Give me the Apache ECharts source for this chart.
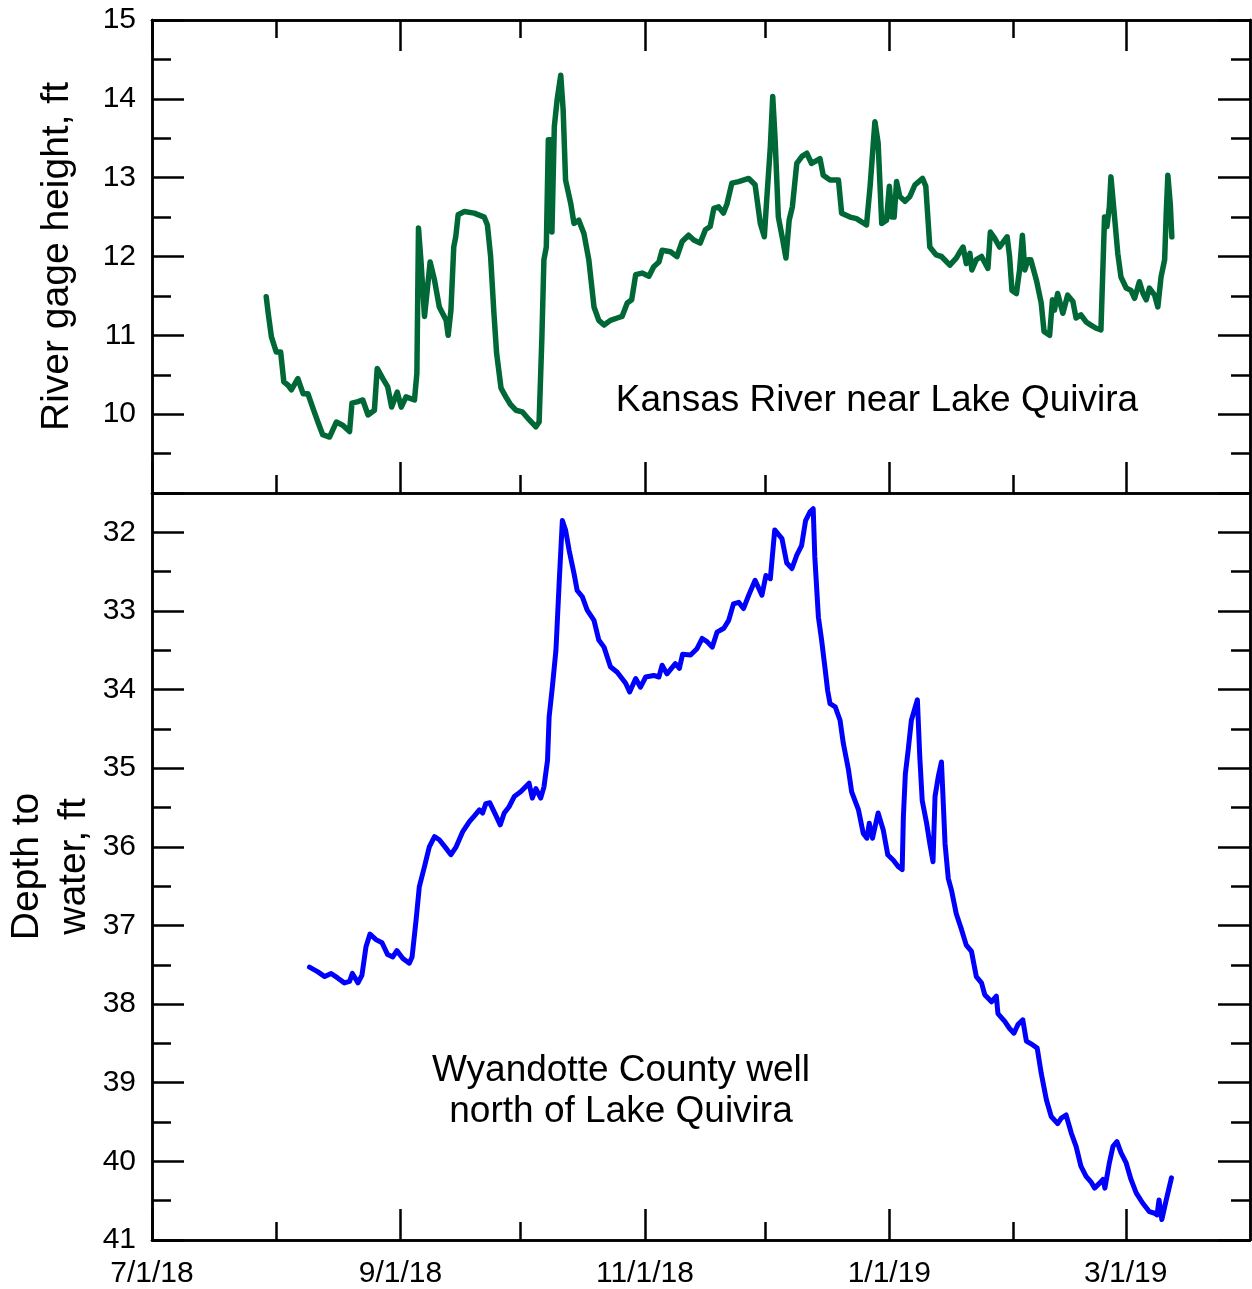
<!DOCTYPE html>
<html>
<head>
<meta charset="utf-8">
<script src="https://cdn.jsdelivr.net/npm/echarts@6/dist/echarts.min.js"></script>
<style>
  html, body { margin: 0; padding: 0; background: #ffffff; }
  #chart { width: 1252px; height: 1289px; }
</style>
</head>
<body>
<div id="chart"></div>
<script>
// ---------------- DATA ----------------
// x values are days since 7/1/2018
const startDate = '2018-07-01';
const endDate = '2019-04-01';
const labeledMonths = ['2018-07-01', '2018-09-01', '2018-11-01', '2019-01-01', '2019-03-01'];
const otherMonths = ['2018-08-01', '2018-10-01', '2018-12-01', '2019-02-01'];

// Kansas River near Lake Quivira, gage height (ft): [day, value]
const riverGage = [
[28.5,11.49],[29,11.28],[29.8,10.98],[31,10.79],[32.1,10.79],[32.9,10.41],[33.9,10.37],[34.8,10.31],[36.4,10.45],[37.7,10.26],
[38.9,10.26],[40.2,10.07],[41.4,9.90],[42.6,9.74],[44.3,9.71],[46,9.90],[47.6,9.86],[49.3,9.78],[49.9,10.14],[51.4,10.16],
[52.6,10.18],[53.9,9.99],[55.5,10.05],[56.2,10.58],[57.6,10.45],[58.8,10.35],[59.8,10.09],[61.2,10.28],[62.2,10.09],[63.4,10.22],
[65.5,10.18],[66.1,10.52],[66.5,12.36],[67.1,11.96],[68,11.24],[68.6,11.53],[69.4,11.93],[70.5,11.70],[71.7,11.36],[73.4,11.19],
[73.9,11.0],[74.6,11.32],[75.3,12.12],[75.8,12.25],[76.4,12.53],[77.9,12.57],[80.4,12.55],[82.9,12.50],[83.7,12.40],[84.5,12.0],
[85.3,11.3],[86,10.77],[87.1,10.33],[88.3,10.22],[89.5,10.12],[90.8,10.05],[92.4,10.03],[94.1,9.93],[95.8,9.84],[96.6,9.90],
[97.3,10.98],[97.8,11.96],[98.4,12.12],[98.9,13.48],[99.5,13.48],[99.8,12.31],[100.1,12.31],[100.4,13.65],[101.1,13.99],[102,14.30],
[102.6,13.86],[103.2,12.97],[104.5,12.67],[105.3,12.42],[106.5,12.46],[107.8,12.29],[109,11.96],[110.3,11.36],[111.5,11.19],[112.8,11.13],
[114.4,11.19],[116.1,11.22],[117.3,11.24],[118.6,11.41],[119.7,11.45],[120.7,11.77],[122.3,11.79],[124,11.75],[125.2,11.87],[126.5,11.93],
[127.3,12.08],[129.4,12.06],[131,12.0],[132.3,12.19],[133.9,12.27],[135.2,12.21],[136.8,12.17],[138.1,12.34],[139.3,12.38],[140.2,12.61],
[141.4,12.63],[142.6,12.55],[143.5,12.67],[144.7,12.93],[146.4,12.95],[148.9,12.99],[150.5,12.91],[151.8,12.42],[152.8,12.25],[153.4,12.72],
[154.3,13.39],[154.9,14.03],[155.5,13.48],[156.3,12.50],[157.4,12.21],[158.2,11.98],[159,12.46],[159.8,12.63],[160.9,13.18],[162.2,13.27],
[163.4,13.31],[164.6,13.18],[166.7,13.24],[167.5,13.03],[169.2,12.97],[171.3,12.97],[172.1,12.55],[174.2,12.50],[175.8,12.48],[178.3,12.40],
[179.2,12.89],[180.4,13.71],[181.2,13.44],[182.1,12.42],[183.3,12.46],[184,12.89],[184.6,12.50],[185.2,12.50],[185.8,12.95],[186.6,12.76],
[187.9,12.70],[189.1,12.76],[190.4,12.91],[192.3,12.99],[193.1,12.89],[194.1,12.12],[195.7,12.02],[197,12.0],[199.1,11.89],[200.7,11.98],
[201.5,12.05],[202.4,12.12],[203.2,11.91],[204.1,12.04],[204.6,11.83],[205.7,11.96],[207,12.0],[208.6,11.85],[209.2,12.31],[210.3,12.23],
[211.5,12.12],[212.8,12.21],[213.4,12.25],[214,12.0],[214.6,11.57],[215.7,11.53],[216.5,11.83],[217.2,12.27],[217.8,11.83],[218.6,11.96],
[219.3,11.96],[220.7,11.70],[221.9,11.41],[222.6,11.05],[224,11.0],[224.7,11.45],[225.2,11.32],[226,11.53],[227.3,11.28],[228.5,11.51],
[229.8,11.43],[230.6,11.22],[231.8,11.26],[233.1,11.17],[234.3,11.13],[235.6,11.09],[236.8,11.07],[237.7,12.50],[238.3,12.38],[238.9,12.63],
[239.3,13.01],[240.2,12.50],[241,12.04],[241.8,11.74],[243.1,11.60],[244.3,11.57],[245.2,11.47],[246.4,11.68],[247.3,11.53],[248.1,11.45],
[248.9,11.60],[250.2,11.51],[251,11.36],[251.8,11.74],[252.7,11.96],[253.1,12.55],[253.5,13.03],[254.1,12.67],[254.5,12.25]
];

// Wyandotte County well north of Lake Quivira, depth to water (ft): [day, value]
const wellDepth = [
[39.3,37.53],[41.4,37.59],[43.1,37.65],[44.7,37.61],[46.4,37.67],[48,37.73],[49.3,37.71],[50,37.61],[51.4,37.73],[52.4,37.63],
[53.4,37.27],[54.4,37.11],[55.9,37.18],[57.4,37.22],[58.8,37.37],[60.1,37.40],[61.1,37.32],[62.6,37.42],[64.2,37.48],[64.9,37.40],
[65.9,36.93],[66.7,36.51],[68,36.25],[69.2,36.0],[70.5,35.87],[71.7,35.91],[73.4,36.02],[74.6,36.10],[75.9,36.0],[77.5,35.81],
[79.2,35.68],[80.4,35.61],[81.7,35.53],[82.5,35.57],[83.3,35.45],[84.3,35.44],[85.8,35.60],[86.9,35.72],[87.9,35.57],[89.1,35.49],
[90.4,35.36],[92,35.30],[94.1,35.19],[94.9,35.38],[95.8,35.26],[97,35.38],[97.8,35.24],[98.7,34.90],[99.1,34.35],[99.9,33.97],
[100.8,33.50],[101.6,32.65],[102.4,31.85],[103.2,31.97],[104.1,32.23],[105.3,32.52],[106.1,32.74],[107.4,32.82],[108.6,32.99],[110.3,33.12],
[111.5,33.37],[112.8,33.46],[114.4,33.71],[116.1,33.78],[118.2,33.92],[119.2,34.03],[120.7,33.86],[121.9,33.97],[123.2,33.84],[125.2,33.82],
[126.5,33.84],[127.3,33.69],[128.5,33.80],[130.6,33.67],[131.6,33.73],[132.4,33.55],[134.4,33.56],[136,33.48],[137.3,33.35],[138.5,33.39],
[139.8,33.46],[141,33.27],[142.7,33.22],[143.9,33.12],[145.1,32.91],[146.4,32.89],[147.6,32.97],[148.9,32.80],[150.5,32.61],[152.2,32.80],
[153.2,32.55],[154.3,32.59],[155.4,31.97],[157.2,32.08],[158.4,32.39],[159.7,32.46],[160.9,32.29],[162.1,32.17],[163.1,31.85],[164.2,31.74],
[165,31.70],[165.4,32.31],[165.9,32.74],[166.3,33.08],[167.1,33.37],[168,33.75],[168.6,34.01],[169.2,34.18],[170.5,34.22],[171.7,34.39],
[172.5,34.68],[173.8,35.02],[174.6,35.30],[176.3,35.53],[177.5,35.83],[178.4,35.89],[179,35.70],[179.8,35.89],[181.2,35.57],[182.5,35.79],
[183.6,36.10],[185,36.17],[186.2,36.25],[187.2,36.29],[187.5,35.62],[188,35.07],[188.7,34.77],[189.5,34.39],[191,34.13],[191.6,34.86],
[192.2,35.41],[193.3,35.70],[194.1,35.96],[194.9,36.19],[195.4,35.36],[196.2,35.11],[197,34.92],[197.5,35.49],[197.9,35.96],[198.7,36.40],
[199.5,36.55],[200.7,36.85],[202,37.05],[203.2,37.25],[204.5,37.33],[205.7,37.65],[207,37.73],[207.8,37.88],[209.5,37.97],[210.7,37.90],
[211.1,38.12],[212.8,38.22],[214,38.31],[215.1,38.37],[216.1,38.26],[217.3,38.20],[218.2,38.47],[219.8,38.52],[220.9,38.56],[221.9,38.88],
[223.2,39.22],[224.4,39.43],[226,39.52],[226.9,39.45],[228.1,39.41],[229.4,39.64],[230.6,39.81],[231.8,40.06],[233.1,40.19],[234.3,40.26],
[235.2,40.34],[236.4,40.28],[237.3,40.23],[237.8,40.34],[238.9,40.02],[239.8,39.81],[240.8,39.75],[241.8,39.89],[243.1,40.02],[244.3,40.23],
[245.6,40.40],[247.2,40.53],[248.9,40.64],[250.2,40.66],[250.8,40.68],[251.3,40.49],[252,40.74],[253.1,40.49],[254.4,40.21]
];

const riverTicks = [9, 10, 11, 12, 13, 14, 15];
const riverLabels = [10, 11, 12, 13, 14, 15];
const riverMinor = [9.5, 10.5, 11.5, 12.5, 13.5, 14.5];
const wellTicks = [32, 33, 34, 35, 36, 37, 38, 39, 40, 41];
const wellMinor = [32.5, 33.5, 34.5, 35.5, 36.5, 37.5, 38.5, 39.5, 40.5];

// ---------------- HELPERS ----------------
const T0 = Date.UTC(2018, 6, 1);
function dayOf(s) {
  const p = s.split('-').map(Number);
  return (Date.UTC(p[0], p[1] - 1, p[2]) - T0) / 864e5;
}
function fmtDay(v) {
  const d = new Date(T0 + Math.round(v) * 864e5);
  return (d.getUTCMonth() + 1) + '/' + d.getUTCDate() + '/' + String(d.getUTCFullYear()).slice(2);
}
const xMin = dayOf(startDate), xMax = dayOf(endDate);
const majX = labeledMonths.map(dayOf);
const minX = otherMonths.map(dayOf);

const FONT = 'Liberation Sans, Arial, Helvetica, sans-serif';
const LINE_W = 2.5;
const black = '#000000';
const TICK_FS = 30;

function xAx(grid, pos, ticks, len, opts) {
  return Object.assign({
    type: 'value', gridIndex: grid, position: pos, min: xMin, max: xMax,
    axisLine: { show: true, onZero: false, lineStyle: { color: black, width: LINE_W } },
    axisTick: { show: true, inside: true, length: len, customValues: ticks, lineStyle: { color: black, width: LINE_W } },
    axisLabel: { show: false },
    splitLine: { show: false }
  }, opts || {});
}
function yAx(grid, pos, min, max, inverse, ticks, len, opts) {
  return Object.assign({
    type: 'value', gridIndex: grid, position: pos, min: min, max: max, inverse: inverse,
    axisLine: { show: true, onZero: false, lineStyle: { color: black, width: LINE_W } },
    axisTick: { show: true, inside: true, length: len, customValues: ticks, lineStyle: { color: black, width: LINE_W } },
    axisLabel: { show: false },
    splitLine: { show: false }
  }, opts || {});
}

const xAxes = [
  xAx(0, 'bottom', majX, 31),
  xAx(0, 'bottom', minX, 18),
  xAx(0, 'top', majX, 31),
  xAx(0, 'top', minX, 18),
  xAx(1, 'bottom', majX, 31, {
    axisLabel: { show: true, customValues: majX, formatter: fmtDay, color: black,
      fontSize: TICK_FS, fontFamily: FONT, margin: 19 }
  }),
  xAx(1, 'bottom', minX, 18)
];

const yAxes = [
  yAx(0, 'left', 9, 15, false, riverTicks, 32, {
    axisLabel: { show: true, customValues: riverLabels, color: black, fontSize: TICK_FS, fontFamily: FONT, margin: 16 },
    name: 'River gage height, ft', nameLocation: 'middle', nameGap: 75, nameMoveOverlap: false,
    nameTextStyle: { color: black, fontSize: 39, fontFamily: FONT }
  }),
  yAx(0, 'left', 9, 15, false, riverMinor, 19),
  yAx(0, 'right', 9, 15, false, riverTicks, 32),
  yAx(0, 'right', 9, 15, false, riverMinor, 19),
  yAx(1, 'left', 31.5, 41, true, wellTicks, 32, {
    axisLabel: { show: true, customValues: wellTicks, color: black, fontSize: TICK_FS, fontFamily: FONT, margin: 16 },
    name: 'Depth to\nwater, ft', nameLocation: 'middle', nameGap: 54, nameMoveOverlap: false,
    nameTextStyle: { color: black, fontSize: 39, fontFamily: FONT, lineHeight: 47, align: 'center' }
  }),
  yAx(1, 'left', 31.5, 41, true, wellMinor, 19),
  yAx(1, 'right', 31.5, 41, true, wellTicks, 32),
  yAx(1, 'right', 31.5, 41, true, wellMinor, 19)
];

const chart = echarts.init(document.getElementById('chart'), null, { renderer: 'canvas' });
chart.setOption({
  animation: false,
  backgroundColor: '#ffffff',
  grid: [
    { left: 152, top: 20, width: 1098, height: 473, containLabel: false, outerBoundsMode: 'none' },
    { left: 152, top: 493, width: 1098, height: 747, containLabel: false, outerBoundsMode: 'none' }
  ],
  xAxis: xAxes,
  yAxis: yAxes,
  graphic: [
    { type: 'text', x: 877, y: 401, style: { text: 'Kansas River near Lake Quivira', fill: black,
      font: '37px ' + FONT, textAlign: 'center', textVerticalAlign: 'middle' } },
    { type: 'text', x: 621, y: 1071, style: { text: 'Wyandotte County well', fill: black,
      font: '37px ' + FONT, textAlign: 'center', textVerticalAlign: 'middle' } },
    { type: 'text', x: 621, y: 1112, style: { text: 'north of Lake Quivira', fill: black,
      font: '37px ' + FONT, textAlign: 'center', textVerticalAlign: 'middle' } }
  ],
  series: [
    { type: 'line', name: 'Kansas River', xAxisIndex: 0, yAxisIndex: 0, data: riverGage,
      showSymbol: false, symbol: 'none', lineStyle: { color: '#006837', width: 5.5, join: 'round', cap: 'round' } },
    { type: 'line', name: 'Well', xAxisIndex: 4, yAxisIndex: 4, data: wellDepth,
      showSymbol: false, symbol: 'none', lineStyle: { color: '#0000ff', width: 5, join: 'round', cap: 'round' } }
  ]
});
</script>
</body>
</html>
